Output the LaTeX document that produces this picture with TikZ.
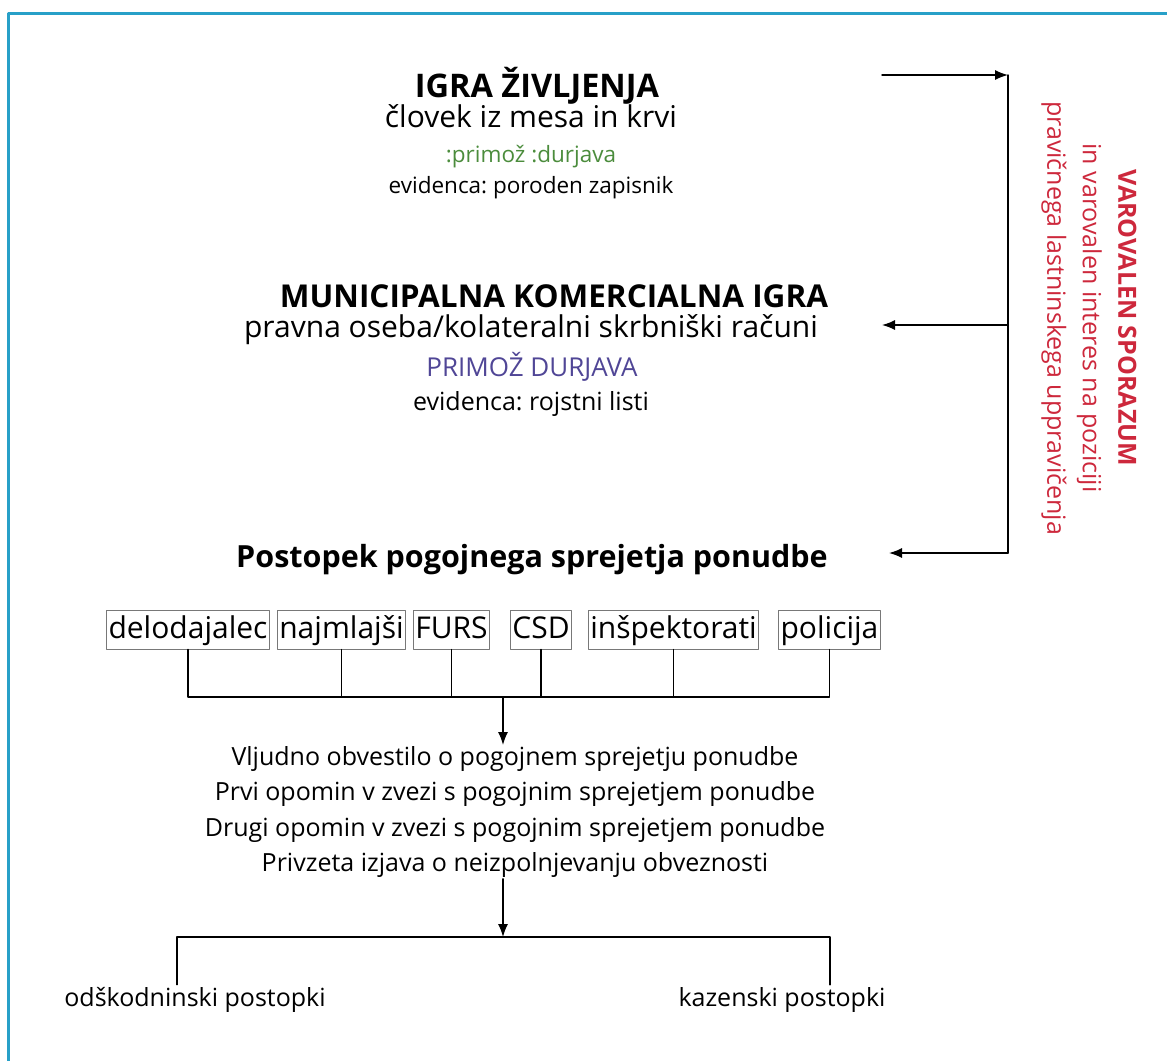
\documentclass[tikz,border=0pt]{standalone}
\usepackage{fontspec}
\setmainfont{Open Sans}
\usetikzlibrary{arrows.meta}
\definecolor{frameblue}{RGB}{40,160,200}
\definecolor{namegreen}{RGB}{75,140,60}
\definecolor{namepurple}{RGB}{80,70,150}
\definecolor{accred}{RGB}{205,40,60}
\definecolor{boxgray}{RGB}{120,120,120}
\frenchspacing

\begin{document}
\begin{tikzpicture}[x=1pt,y=-1pt, line cap=round, line join=round]

\tikzset{
  main/.style={draw=black, line width=1.4pt},
  arr/.style={main, -{Latex[length=13pt,width=10pt]}},
  ttl/.style={anchor=base, font=\fontsize{31.5}{36}\selectfont\bfseries},
  sub/.style={anchor=base, font=\fontsize{30}{36}\selectfont},
  txt/.style={anchor=base, font=\fontsize{22.5}{27}\selectfont},
  agency/.style={draw=boxgray, line width=0.9pt, inner xsep=2pt, inner ysep=0pt,
    text height=24pt, text depth=6pt, minimum height=39pt, font=\fontsize{30}{36}\selectfont},
  steps/.style={align=center, anchor=north, inner ysep=1pt, font=\fontsize{25}{35.5}\selectfont},
  outcome/.style={anchor=base, inner ysep=2pt, font=\fontsize{25}{30}\selectfont},
  side/.style={align=center, text=accred, rotate=-90, font=\fontsize{25}{35.5}\selectfont},
}

\useasboundingbox (0,0) rectangle (1167,1060);
\draw[frameblue, line width=3pt] (8,1064) -- (8,13) -- (1170,13);

% game of life
\node[ttl, font=\fontsize{32.5}{36}\selectfont\bfseries] (igra) at (537,97) {IGRA ŽIVLJENJA};
\node[sub] (clovek) at (531,127) {človek iz mesa in krvi};
\node[txt, text=namegreen] (ime) at (531,162) {:primož :durjava};
\node[txt] (evid1) at (531,193) {evidenca: poroden zapisnik};

% municipal game
\node[ttl] (muni) at (554,307) {MUNICIPALNA KOMERCIALNA IGRA};
\node[sub] (pravna) at (531,337) {pravna oseba/kolateralni skrbniški računi};
\node[txt, text=namepurple, font=\fontsize{26}{30}\selectfont] (name) at (532,376) {PRIMOŽ DURJAVA};
\node[txt, font=\fontsize{25}{30}\selectfont] (evid2) at (531,410) {evidenca: rojstni listi};

% procedure
\node[ttl, font=\fontsize{30.5}{36}\selectfont\bfseries] (post) at (532,567) {Postopek pogojnega sprejetja ponudbe};

% agencies
\node[agency] (dl) at (188,629.5) {delodajalec};
\node[agency] (nm) at (341.5,629.5) {najmlajši};
\node[agency] (fu) at (451.5,629.5) {FURS};
\node[agency] (cs) at (541,629.5) {CSD};
\node[agency] (in) at (673.5,629.5) {inšpektorati};
\node[agency] (po) at (829.5,629.5) {policija};

\coordinate (bus) at (503,697);
\draw[main] (dl.south) |- (po.south |- bus) -- (po.south);
\draw[main] (nm.south) -- (nm.south |- bus);
\draw[main] (fu.south) -- (fu.south |- bus);
\draw[main] (cs.south) -- (cs.south |- bus);
\draw[main] (in.south) -- (in.south |- bus);

% notices
\node[steps] (obv) at (515,745) {Vljudno obvestilo o pogojnem sprejetju ponudbe\\
  Prvi opomin v zvezi s pogojnim sprejetjem ponudbe\\
  Drugi opomin v zvezi s pogojnim sprejetjem ponudbe\\
  Privzeta izjava o neizpolnjevanju obveznosti};
\draw[arr] (bus) -- (bus |- obv.north);

% outcomes
\node[outcome] (odsk) at (195,1006) {odškodninski postopki};
\node[outcome] (kaz) at (782,1006) {kazenski postopki};
\coordinate (split) at (503,937);
\coordinate (sl) at (177,937);
\coordinate (sr) at (830,937);
\draw[arr] (split |- obv.south) -- (split);
\draw[main] (sl |- odsk.north) -- (sl) -- (sr) -- (sr |- kaz.north);

% security agreement
\coordinate (tr) at (1008,75);
\coordinate (mr) at (1008,325);
\coordinate (br) at (1008,553);
\coordinate (ta) at (882,75);
\coordinate (ma) at (882,325);
\coordinate (ba) at (889,553);
\draw[arr] (ta) -- (tr);
\draw[main] (tr) -- (br);
\draw[arr] (mr) -- (ma);
\draw[arr] (br) -- (ba);
\node[side] (sporazum) at (1089,318) {{\bfseries VAROVALEN SPORAZUM}\\
  in varovalen interes na poziciji\\
  pravičnega lastninskega uppravičenja};

\end{tikzpicture}
\end{document}
